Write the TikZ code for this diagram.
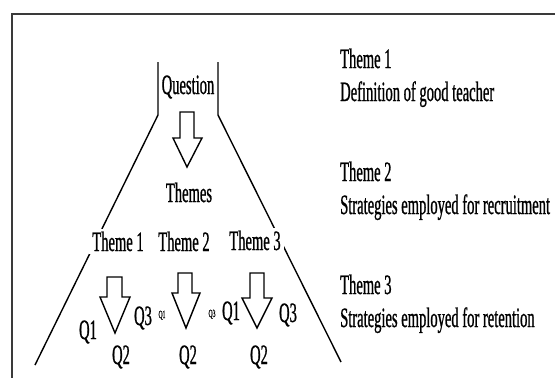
\documentclass[tikz,border=0pt]{standalone}
\usepackage{fontspec}
\setmainfont{Liberation Serif}[FakeStretch=0.52, FakeBold=0.8]
\definecolor{framegrey}{HTML}{3A3A3A}
\usetikzlibrary{calc}

\begin{document}
\begin{tikzpicture}[x=1pt, y=-1pt,
  lbl/.style={font=\fontsize{28}{30}\selectfont, inner sep=0pt, anchor=base},
  toplbl/.style={lbl, fill=white, inner sep=3pt},
  tinylbl/.style={font=\fontsize{11}{13}\selectfont, inner sep=0pt, anchor=base},
  sidelbl/.style={lbl, anchor=base west},
  flask/.style={draw=black, line width=1.4pt},
  blockarrow/.style={draw=black, line width=1.4pt, fill=white, line join=miter}]
\useasboundingbox (0,0) rectangle (555,378);

% Frame (top and left edge)
\draw[framegrey, line width=2pt] (12,378) -- (12,14) -- (555,14);

% Flask outline: neck and body
\draw[flask] (158,62) -- (158,115) -- (35,365);
\draw[flask] (218,62) -- (218,115) -- (341,362);

% Neck and middle
\node[lbl] (question) at (188,94) {Question};
\draw[blockarrow] (180,112) -- (194,112) -- (194,138) -- (202,138) -- (187,167) -- (173,138) -- (180,138) -- cycle;
\node[lbl] (themes) at (189,202) {Themes};

% Theme row (covers the flask sides)
\node[toplbl] (theme1) at (118,251) {Theme 1};
\node[toplbl] (theme2) at (184,251) {Theme 2};
\node[toplbl] (theme3) at (255,250) {Theme 3};

% Arrows under each theme
\draw[blockarrow] (107,277) -- (122,277) -- (122,297) -- (130,297) -- (115,333) -- (100,297) -- (107,297) -- cycle;
\draw[blockarrow] (178,273) -- (192,273) -- (192,293) -- (200,293) -- (186,328) -- (172,293) -- (178,293) -- cycle;
\draw[blockarrow] (250,273) -- (264,273) -- (264,298) -- (272,298) -- (257,328) -- (242,298) -- (250,298) -- cycle;

% Questions per theme
\node[lbl] (q1a) at (88,339) {Q1};
\node[lbl] (q3a) at (143,325) {Q3};
\node[lbl] (q2a) at (121,364) {Q2};
\node[tinylbl] (q1b) at (162,318) {Q1};
\node[tinylbl] (q3b) at (212,317) {Q3};
\node[lbl] (q2b) at (188,364) {Q2};
\node[lbl] (q1c) at (231,320) {Q1};
\node[lbl] (q3c) at (288,322) {Q3};
\node[lbl] (q2c) at (259,364) {Q2};

% Legend on the right
\node[sidelbl] (leg1) at (340,68) {Theme 1};
\node[sidelbl] (def1) at (340,101) {Definition of good teacher};
\node[sidelbl] (leg2) at (340,181) {Theme 2};
\node[sidelbl] (def2) at (340,214) {Strategies employed for recruitment};
\node[sidelbl] (leg3) at (340,294) {Theme 3};
\node[sidelbl] (def3) at (340,327) {Strategies employed for retention};

\end{tikzpicture}
\end{document}
